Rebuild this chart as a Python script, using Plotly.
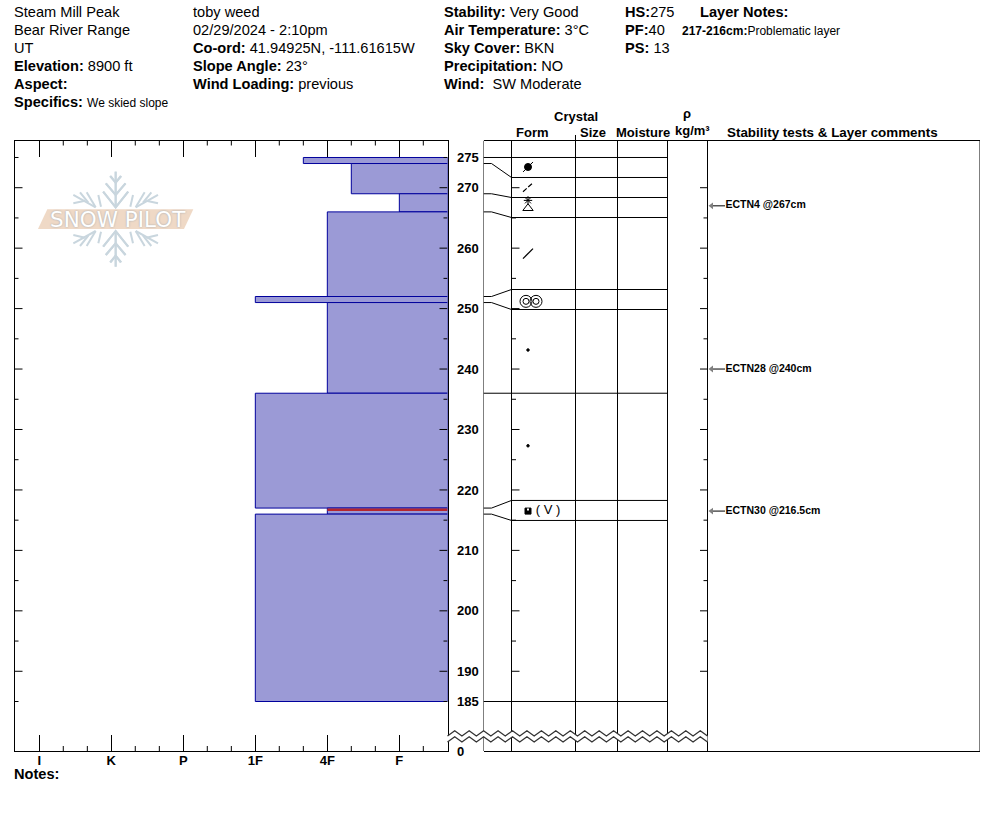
import plotly.graph_objects as go

# layers: top cm, bottom cm, hand hardness (I=1 K=2 P=3 1F=4 4F=5 F=6)
layer_top = [275, 274, 269, 266, 252, 251, 236, 217, 216]
layer_bottom = [274, 269, 266, 252, 251, 236, 217, 216, 185]
layer_hardness = [4.667, 5.333, 6, 5, 4, 5, 4, 5, 4]

# problem layer marked in red
red_top = [216.92]
red_bottom = [216.5]
red_hardness = [5]

hardness_vals = [1, 2, 3, 4, 5, 6]
hardness_labels = ["I", "K", "P", "1F", "4F", "F"]
hardness_minor = [1.333, 1.667, 2.333, 2.667, 3.333, 3.667, 4.333, 4.667, 5.333, 5.667, 6.333]

depth_vals = [275, 270, 260, 250, 240, 230, 220, 210, 200, 190, 185, 176.81]
depth_labels = ["275", "270", "260", "250", "240", "230", "220", "210", "200", "190", "185", "0"]
long_ticks = [270, 260, 250, 240, 230, 220, 210, 200, 190]
short_ticks = [275, 265, 255, 245, 235, 225, 215, 205, 195, 185]

# layer boundaries: real depth -> where the table row is drawn
joint_depth = [274, 269, 266, 252, 251, 217, 216]
joint_row = [271.69, 268.38, 265.07, 253.16, 249.85, 218.26, 214.95]
straight_rows = [275, 236, 185]

test_depth = [267, 240, 216.5]
test_labels = ["ECTN4 @267cm", "ECTN28 @240cm", "ECTN30 @216.5cm"]

Y_MIN, Y_MAX = 176.81, 277.81
X_MIN, X_MAX = 0.6556, 6.669
col_edges = [483.5, 511.5, 575.5, 617.5, 667.5, 707.5, 979.5]
FONT = "Liberation Sans"
W, H = 994, 840


def X(p):
    return p / W


def Y(p):
    return 1 - p / H


fig = go.Figure()

# hardness bars
fig.add_trace(go.Bar(
    orientation="h",
    y=[(a + b) / 2 for a, b in zip(layer_top, layer_bottom)],
    width=[a - b for a, b in zip(layer_top, layer_bottom)],
    base=layer_hardness,
    x=[X_MAX - v for v in layer_hardness],
    marker=dict(color="#9b9ad6", line=dict(color="#00009c", width=1)),
    xaxis="x", yaxis="y"))
fig.add_trace(go.Bar(
    orientation="h",
    y=[(a + b) / 2 for a, b in zip(red_top, red_bottom)],
    width=[a - b for a, b in zip(red_top, red_bottom)],
    base=red_hardness,
    x=[X_MAX - v for v in red_hardness],
    marker=dict(color="#b5262e", line=dict(width=0)),
    xaxis="x", yaxis="y"))


def add_lines(xs, ys, axis="x2", color="black", width=1, dash=None):
    fig.add_trace(go.Scatter(x=xs, y=ys, mode="lines", xaxis=axis, yaxis="y",
                             line=dict(color=color, width=width, dash=dash)))


def add_glyph(x, y, symbol, size, color="black", lw=1):
    fig.add_trace(go.Scatter(x=[x], y=[y], mode="markers", xaxis="x2", yaxis="y",
                             marker=dict(symbol=symbol, size=size, color=color,
                                         line=dict(color=color, width=lw))))


# ticks on both edges of the hardness panel
tx, ty = [], []
for d in long_ticks:
    tx += [X_MIN, X_MIN + 8 / 72, None, X_MAX, X_MAX - 8 / 72, None]
    ty += [d, d, None, d, d, None]
for d in short_ticks:
    tx += [X_MIN, X_MIN + 4 / 72, None, X_MAX, X_MAX - 4 / 72, None]
    ty += [d, d, None, d, d, None]
# minor hardness ticks, top and bottom
for v in hardness_minor:
    tx += [v, v, None, v, v, None]
    ty += [Y_MIN, Y_MIN + 5 / 6.045, None, Y_MAX, Y_MAX - 5 / 6.045, None]
add_lines(tx, ty, axis="x")

# table columns
cx, cy = [], []
for c in col_edges:
    cx += [c, c, None]
    cy += [Y_MIN, Y_MAX, None]
add_lines(cx, cy)

# table rows
rx, ry = [], []
for d in joint_row:
    rx += [511.5, 667.5, None]
    ry += [d, d, None]
for d in straight_rows:
    rx += [483.5, 667.5, None]
    ry += [d, d, None]
add_lines(rx, ry)

# connectors depth -> row
jx, jy = [], []
for d, r in zip(joint_depth, joint_row):
    jx += [483.5, 491.5, 511.5, None]
    jy += [d, d, r, None]
add_lines(jx, jy)

# ticks inside form and density columns
kx, ky = [], []
for d in long_ticks:
    kx += [511.5, 519.5, None, 707.5, 700, None]
    ky += [d, d, None, d, d, None]
for d in short_ticks[1:-1]:
    kx += [511.5, 516, None, 707.5, 703.5, None]
    ky += [d, d, None, d, d, None]
add_lines(kx, ky)

# crystal form glyphs
add_glyph(528, 273.43, "circle", 7)
add_glyph(528, 273.43, "line-ne-open", 10)
add_lines([523, 532.7], [269.34, 270.78], dash="5px,2px", width=1.2)
add_glyph(528, 266.6, "triangle-up-open", 9)
add_glyph(528, 267.9, "asterisk-open", 7)
add_glyph(528, 259.1, "line-ne-open", 10, lw=1.3)
add_glyph(526, 251.2, "circle-open", 12)
add_glyph(526, 251.2, "circle-open", 6)
add_glyph(536, 251.2, "circle-open", 12)
add_glyph(536, 251.2, "circle-open", 6)
add_glyph(528, 243.15, "circle", 2.5)
add_glyph(528, 227.3, "circle", 2.5)
add_glyph(528, 216.5, "square", 6)
add_glyph(528, 216.75, "square", 2, color="white", lw=0)
fig.add_trace(go.Scatter(x=[548], y=[216.5], mode="text", text=["( V )"], xaxis="x2", yaxis="y",
                         textfont=dict(family=FONT, size=13, color="black")))

# stability test arrows
for d, t in zip(test_depth, test_labels):
    add_lines([712, 725], [d, d])
    add_glyph(711.5, d, "triangle-left", 6, color="#808080", lw=0)
fig.add_trace(go.Scatter(x=[725.5] * 3, y=test_depth, mode="text", text=test_labels,
                         textposition="middle right", xaxis="x2", yaxis="y",
                         textfont=dict(family=FONT, size=10.5, color="black", weight=700)))

shapes = []


def seg(pts, color, width=1, fill=None, close=False, layer="above"):
    path = "M" + " L".join(f"{X(a):.5f},{Y(b):.5f}" for a, b in pts) + (" Z" if close else "")
    s = dict(type="path", path=path, xref="paper", yref="paper", layer=layer,
             line=dict(color=color, width=width))
    if fill:
        s["fillcolor"] = fill
    shapes.append(s)


LX, LY = 30, 160
stem = [[(257, 35), (257, 140)], [(240, 48), (257, 68), (272, 48)], [(228, 70), (257, 105), (287, 70)],
        [(220, 95), (257, 142), (295, 95)], [(205, 105), (213, 140)],
        [(197, 142), (130, 105)], [(150, 97), (175, 128)], [(130, 130), (165, 122)], [(170, 97), (197, 142)]]
for stroke in stem:
    for mx in (False, True):
        for my in (False, True):
            pts = [((514 - a if mx else a) / 3 + LX, (355 - b if my else b) / 3 + LY) for a, b in stroke]
            seg(pts, "#c9d6de", width=2, layer="below")
seg([(38, 229), (47.3, 209.3), (193.3, 209.3), (184, 229)], "#efd9c6", width=0, fill="#efd9c6", close=True, layer="below")

# axis break, white band between two zigzags
xs = [447.5 + i * 260 / 36 for i in range(37)]
upper = [(x, 736 if i % 2 == 0 else 730.7) for i, x in enumerate(xs)]
lower = [(x, 742 if i % 2 == 0 else 736.7) for i, x in enumerate(xs)]
seg(upper + lower[::-1], "white", width=0, fill="white", close=True)
seg(upper, "#333333", width=1.3)
seg(lower, "#333333", width=1.3)
seg([(575.5, 135), (575.5, 140.5)], "black", width=1)

header = [
    (12, 12, "Steam Mill Peak"), (12, 30, "Bear River Range"), (12, 48, "UT"),
    (12, 66, "<b>Elevation:</b> 8900 ft"), (12, 84, "<b>Aspect:</b>"),
    (12, 102, "<b>Specifics:</b> <span style='font-size:12px'>We skied slope</span>"),
    (191, 12, "toby weed"), (191, 30, "02/29/2024 - 2:10pm"),
    (191, 48, "<b>Co-ord:</b> 41.94925N, -111.61615W"),
    (191, 66, "<b>Slope Angle:</b> 23°"), (191, 84, "<b>Wind Loading:</b> previous"),
    (442, 12, "<b>Stability:</b> Very Good"), (442, 30, "<b>Air Temperature:</b> 3°C"),
    (442, 48, "<b>Sky Cover:</b> BKN"), (442, 66, "<b>Precipitation:</b> NO"),
    (442, 84, "<b>Wind:</b>  SW Moderate"),
    (623, 12, "<b>HS:</b>275"), (623, 30, "<b>PF:</b>40"), (623, 48, "<b>PS:</b> 13"),
    (698, 12, "<b>Layer Notes:</b>"),
    (12, 774, "<b>Notes:</b>"),
]
annotations = [dict(x=X(a), y=Y(b), text=t, xref="paper", yref="paper", xanchor="left", yanchor="middle",
                    showarrow=False, font=dict(family=FONT, size=14.6, color="black"))
               for a, b, t in header]
small = [
    (680, 31, "<b>217-216cm:</b>Problematic layer", 12),
    (552, 117, "<b>Crystal</b>", 13), (514, 132, "<b>Form</b>", 13), (578, 132, "<b>Size</b>", 13),
    (614, 132, "<b>Moisture</b>", 13), (681, 114, "<b>ρ</b>", 13), (673, 130, "<b>kg/m³</b>", 13),
    (725, 132, "<b>Stability tests &amp; Layer comments</b>", 13.4),
]
annotations += [dict(x=X(a), y=Y(b), text=t, xref="paper", yref="paper", xanchor="left", yanchor="middle",
                     showarrow=False, font=dict(family=FONT, size=s, color="black"))
                for a, b, t, s in small]
annotations.append(dict(x=X(118), y=Y(219.5), text="SNOW PILOT", xref="paper", yref="paper",
                        xanchor="center", yanchor="middle", showarrow=False,
                        font=dict(family="DejaVu Sans", size=21.5, color="white", shadow="0 0 2px #9aa4ad")))

fig.update_layout(
    width=W, height=H, margin=dict(l=0, r=0, t=0, b=0, autoexpand=False),
    paper_bgcolor="white", plot_bgcolor="white",
    showlegend=False, barmode="overlay",
    shapes=shapes, annotations=annotations,
    xaxis=dict(domain=[X(14.5), X(447.5)], range=[X_MIN, X_MAX], anchor="y",
               tickvals=hardness_vals, ticktext=hardness_labels,
               ticks="inside", ticklen=16, tickwidth=1, tickcolor="black",
               showline=True, linecolor="black", linewidth=1, mirror="ticks",
               showgrid=False, zeroline=False, ticklabelstandoff=-3,
               tickfont=dict(family=FONT, size=13, color="black", weight=700)),
    yaxis=dict(domain=[Y(751), Y(140.5)], range=[Y_MIN, Y_MAX], anchor="x", side="right",
               tickvals=depth_vals, ticktext=depth_labels, ticks="", ticklabelstandoff=6,
               showline=True, linecolor="black", linewidth=1, mirror=True,
               showgrid=False, zeroline=False,
               tickfont=dict(family=FONT, size=13, color="black", weight=700)),
    xaxis2=dict(domain=[X(483.5), X(979.5)], range=[483.5, 979.5], anchor="y",
                showticklabels=False, ticks="", showgrid=False, zeroline=False,
                showline=True, linecolor="black", linewidth=1, mirror=True),
)

# page margin off so the 994x840 figure sits at the window corner
fig.write_html("out.html", config=dict(displayModeBar=False),
               post_script="document.body.style.margin='0';document.documentElement.style.overflow='hidden';")
